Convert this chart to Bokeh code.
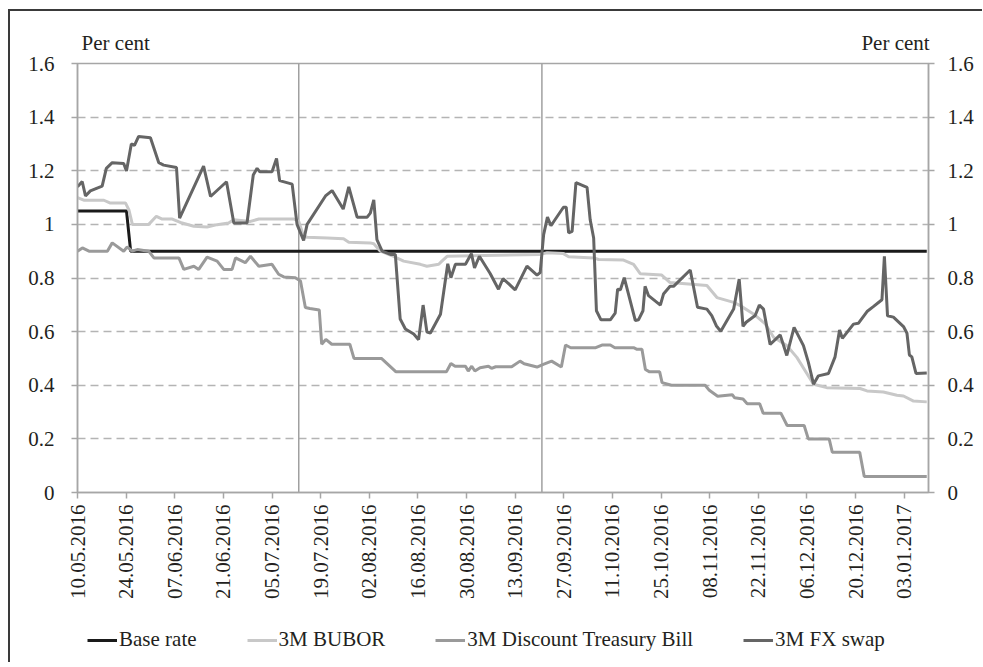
import math
from bokeh.plotting import figure
from bokeh.layouts import column
from bokeh.models import (Range1d, FixedTicker, LinearAxis, Span, Legend, LegendItem,
                          CustomJSTickFormatter)
from bokeh.embed import file_html
from bokeh.resources import INLINE

# x values are days after 10.05.2016
tick_labels = ["10.05.2016", "24.05.2016", "07.06.2016", "21.06.2016", "05.07.2016",
               "19.07.2016", "02.08.2016", "16.08.2016", "30.08.2016", "13.09.2016",
               "27.09.2016", "11.10.2016", "25.10.2016", "08.11.2016", "22.11.2016",
               "06.12.2016", "20.12.2016", "03.01.2017"]
tick_days = [0, 14, 28, 42, 56, 70, 84, 98, 112, 126, 140, 154, 168, 182, 196, 210, 224, 238]
y_ticks = [0, 0.2, 0.4, 0.6, 0.8, 1.0, 1.2, 1.4, 1.6]
unit_text = "Per cent"
event_days = [63.7, 133.7]  # rate-decision markers
series_names = ["Base rate", "3M BUBOR", "3M Discount Treasury Bill", "3M FX swap"]

base_days = [0, 14.1, 15.3, 244.5]
base_vals = [1.05, 1.05, 0.90, 0.90]

bubor_days = [0, 1.8, 7.6, 9.3, 13.8, 14.8, 15.8, 20.5, 22.7, 24.4, 27.3, 29.6, 33.5, 37.3,
              40.2, 43.5, 45.0, 49.8, 52.2, 62.3, 63.7, 65.1, 66.1, 71.9, 76.6, 78.1, 84.3,
              85.3, 87.2, 91.0, 93.9, 98.7, 100.6, 104.0, 104.9, 106.4, 133.2, 135.2, 139.9,
              141.4, 148.6, 150.0, 157.2, 160.1, 162.0, 168.2, 170.6, 181.2, 184.1, 188.9,
              190.8, 194.6, 198.0, 200.4, 204.2, 207.1, 211.9, 215.7, 225.3, 227.3, 232.0,
              235.9, 237.8, 240.7, 244.5]
bubor_vals = [1.10, 1.09, 1.09, 1.08, 1.08, 1.054, 1.00, 1.00, 1.03, 1.02, 1.02, 1.007, 0.993,
              0.99, 0.999, 1.005, 1.017, 1.011, 1.02, 1.02, 1.011, 0.956, 0.952, 0.949, 0.946,
              0.933, 0.931, 0.928, 0.90, 0.881, 0.863, 0.851, 0.844, 0.851, 0.863, 0.881, 0.888,
              0.894, 0.891, 0.879, 0.875, 0.869, 0.867, 0.851, 0.816, 0.811, 0.783, 0.772,
              0.727, 0.709, 0.697, 0.666, 0.629, 0.579, 0.548, 0.504, 0.404, 0.391, 0.388,
              0.379, 0.375, 0.363, 0.36, 0.341, 0.338]

tbill_days = [0, 1.4, 3.3, 8.6, 10.0, 13.3, 14.3, 15.7, 17.2, 20.5, 22.0, 29.2, 30.6, 33.5,
              34.9, 37.3, 40.2, 42.1, 44.5, 45.5, 48.3, 49.8, 52.2, 56.0, 57.9, 59.4, 62.7,
              64.2, 65.6, 66.9, 69.6, 70.3, 71.5, 73.2, 78.4, 79.6, 87.5, 91.7, 106.2, 107.5,
              108.7, 111.7, 112.5, 113.5, 114.4, 115.9, 118.3, 119.2, 120.4, 125.0, 127.4,
              128.6, 132.3, 134.1, 136.5, 139.3, 140.5, 142.0, 149.2, 151.0, 153.4, 154.7,
              160.1, 161.1, 162.5, 163.5, 164.7, 167.6, 168.3, 171.0, 180.7, 181.9, 184.3,
              188.5, 189.2, 191.6, 192.8, 196.4, 197.4, 202.5, 204.3, 209.2, 210.4, 216.4,
              217.3, 225.2, 226.5, 244.5]
tbill_vals = [0.90, 0.912, 0.90, 0.90, 0.931, 0.90, 0.916, 0.90, 0.906, 0.90, 0.875, 0.875,
              0.832, 0.844, 0.832, 0.878, 0.863, 0.832, 0.832, 0.875, 0.857, 0.881, 0.844,
              0.851, 0.814, 0.804, 0.801, 0.789, 0.69, 0.686, 0.681, 0.553, 0.571, 0.553,
              0.553, 0.50, 0.50, 0.45, 0.45, 0.481, 0.471, 0.471, 0.453, 0.471, 0.453, 0.465,
              0.471, 0.463, 0.469, 0.469, 0.49, 0.48, 0.468, 0.478, 0.49, 0.468, 0.55, 0.54,
              0.54, 0.55, 0.55, 0.54, 0.54, 0.534, 0.534, 0.459, 0.45, 0.45, 0.41, 0.40, 0.40,
              0.381, 0.359, 0.365, 0.353, 0.349, 0.331, 0.331, 0.296, 0.296, 0.25, 0.25, 0.20,
              0.20, 0.15, 0.15, 0.06, 0.06]

swap_days = [0, 1.35, 2.3, 3.7, 7.1, 8.3, 10.0, 13.3, 14.1, 15.5, 16.4, 17.6, 21.0, 23.4, 24.8,
             28.5, 29.4, 36.3, 38.3, 42.9, 45.0, 48.8, 50.6, 51.7, 52.5, 56.0, 57.3, 58.2, 61.8,
             63.2, 65.1, 66.1, 71.4, 73.3, 76.5, 78.1, 80.5, 83.4, 84.3, 85.3, 86.2, 87.7, 90.1,
             91.5, 92.9, 94.4, 96.8, 98.2, 99.5, 100.6, 101.6, 104.5, 105.4, 106.6, 107.5,
             108.8, 111.7, 113.4, 114.3, 115.7, 118.8, 121.2, 122.5, 126.0, 129.4, 132.3,
             133.2, 134.2, 135.3, 136.3, 139.9, 140.7, 141.4, 142.4, 143.5, 146.7, 147.6,
             148.6, 149.4, 150.7, 153.4, 154.8, 155.5, 156.3, 157.4, 160.6, 161.5, 162.8,
             163.4, 164.4, 167.8, 168.7, 170.6, 171.6, 176.4, 178.5, 181.2, 182.6, 183.9,
             185.2, 188.9, 190.5, 191.6, 192.5, 195.1, 196.3, 197.5, 199.4, 202.3, 204.2,
             206.3, 209.0, 210.4, 211.9, 213.3, 216.2, 218.1, 219.4, 220.2, 223.4, 224.8,
             227.3, 229.2, 231.6, 232.3, 233.2, 234.9, 237.8, 238.8, 239.5, 240.2, 241.4, 244.5]
swap_vals = [1.14, 1.16, 1.106, 1.125, 1.143, 1.209, 1.23, 1.227, 1.199, 1.30, 1.295, 1.328,
             1.323, 1.23, 1.221, 1.212, 1.023, 1.217, 1.104, 1.159, 1.005, 1.005, 1.184, 1.209,
             1.196, 1.196, 1.246, 1.163, 1.15, 1.0, 0.94, 1.0, 1.106, 1.126, 1.057, 1.14,
             1.027, 1.027, 1.042, 1.091, 0.943, 0.90, 0.888, 0.888, 0.647, 0.61, 0.591, 0.570,
             0.699, 0.598, 0.595, 0.665, 0.746, 0.853, 0.801, 0.851, 0.851, 0.891, 0.838,
             0.881, 0.817, 0.758, 0.798, 0.756, 0.844, 0.811, 0.82, 0.962, 1.027, 0.995, 1.064,
             1.064, 0.968, 0.974, 1.156, 1.138, 1.017, 0.949, 0.678, 0.644, 0.644, 0.669,
             0.758, 0.756, 0.801, 0.641, 0.644, 0.678, 0.769, 0.734, 0.699, 0.74, 0.769, 0.769,
             0.83, 0.691, 0.684, 0.66, 0.622, 0.601, 0.684, 0.796, 0.62, 0.635, 0.66, 0.699,
             0.684, 0.552, 0.588, 0.511, 0.616, 0.548, 0.486, 0.404, 0.435, 0.444, 0.506,
             0.606, 0.575, 0.628, 0.631, 0.675, 0.694, 0.719, 0.881, 0.659, 0.654, 0.619,
             0.594, 0.513, 0.506, 0.444, 0.446]

FONT = "Liberation Serif"
FS = "21px"
TXT = "#231f20"
AX = "#a6a6a6"
X_END = 245
COLORS = ["#1a1a1a", "#c8c8c8", "#9a9a9a", "#656565"]

fig = figure(frame_width=851, frame_height=429, output_backend="svg", toolbar_location=None,
             x_range=Range1d(0, X_END), y_range=Range1d(0, 1.6),
             min_border_left=67, min_border_right=54, min_border_top=52, min_border_bottom=114)

fig.outline_line_color = AX
fig.outline_line_width = 1.5
fig.xgrid.visible = False
fig.ygrid.grid_line_color = "#b4b4b4"
fig.ygrid.grid_line_dash = "8 5"
fig.ygrid.grid_line_width = 1.3

yfmt = CustomJSTickFormatter(code="return String(Number(tick.toFixed(1)));")

xa = fig.xaxis[0]
xa.ticker = FixedTicker(ticks=tick_days)
xa.major_label_overrides = {d: s for d, s in zip(tick_days, tick_labels)}
xa.major_label_orientation = math.pi / 2
xa.major_label_standoff = 6

ya = fig.yaxis[0]
ya.ticker = FixedTicker(ticks=y_ticks)
ya.formatter = yfmt
ya.major_label_standoff = 17

ra = LinearAxis(ticker=FixedTicker(ticks=y_ticks), formatter=yfmt, major_label_standoff=13)
fig.add_layout(ra, "right")

# unit captions above the plot area, left and right
unit_pos = [11, 235.5]
ta = LinearAxis(ticker=FixedTicker(ticks=unit_pos),
                major_label_overrides={u: unit_text for u in unit_pos})
fig.add_layout(ta, "above")

for ax in (xa, ya, ra, ta):
    ax.axis_line_color = AX
    ax.axis_line_width = 1.5
    ax.major_tick_line_color = AX
    ax.major_tick_line_width = 1.5
    ax.major_tick_out = 6
    ax.major_tick_in = 0
    ax.minor_tick_line_color = None
    ax.major_label_text_font = FONT
    ax.major_label_text_font_size = FS
    ax.major_label_text_color = TXT
ta.axis_line_color = None
ta.major_tick_line_color = None
ta.major_tick_out = 0
ta.major_label_standoff = 9

for d in event_days:
    fig.add_layout(Span(location=d, dimension="height", line_color="#a0a0a0",
                        line_width=1.5, level="underlay"))

series = [(base_days, base_vals), (bubor_days, bubor_vals),
          (tbill_days, tbill_vals), (swap_days, swap_vals)]
for (xs, ys), c in zip(series, COLORS):
    fig.line(xs, ys, line_color=c, line_width=3)

# legend strip below the chart; its ranges keep the sample series out of view,
# so only the legend keys (which take the series styles) are drawn
leg = figure(width=972, height=56, output_backend="svg", toolbar_location=None,
             x_axis_type=None, y_axis_type=None, min_border=0,
             x_range=Range1d(0, X_END), y_range=Range1d(2, 3))
leg.outline_line_color = None
leg.grid.visible = False
items = []
for name, (xs, ys), c in zip(series_names, series, COLORS):
    r = leg.line(xs, ys, line_color=c, line_width=3)
    items.append(LegendItem(label=name, renderers=[r]))
legend = Legend(items=items, orientation="horizontal", location=(10, 10),
                label_text_font=FONT, label_text_font_size=FS, label_text_color=TXT,
                glyph_width=30, glyph_height=20, label_standoff=2, spacing=50,
                padding=0, margin=0, border_line_alpha=0, background_fill_alpha=0)
leg.add_layout(legend, "center")

p = column(fig, leg, spacing=0)
p.styles = {"margin-left": "8px", "margin-top": "9px",
            "border-top": "2px solid #3a3a3a", "border-left": "2px solid #3a3a3a"}

open("out.html", "w").write(file_html(p, INLINE))
